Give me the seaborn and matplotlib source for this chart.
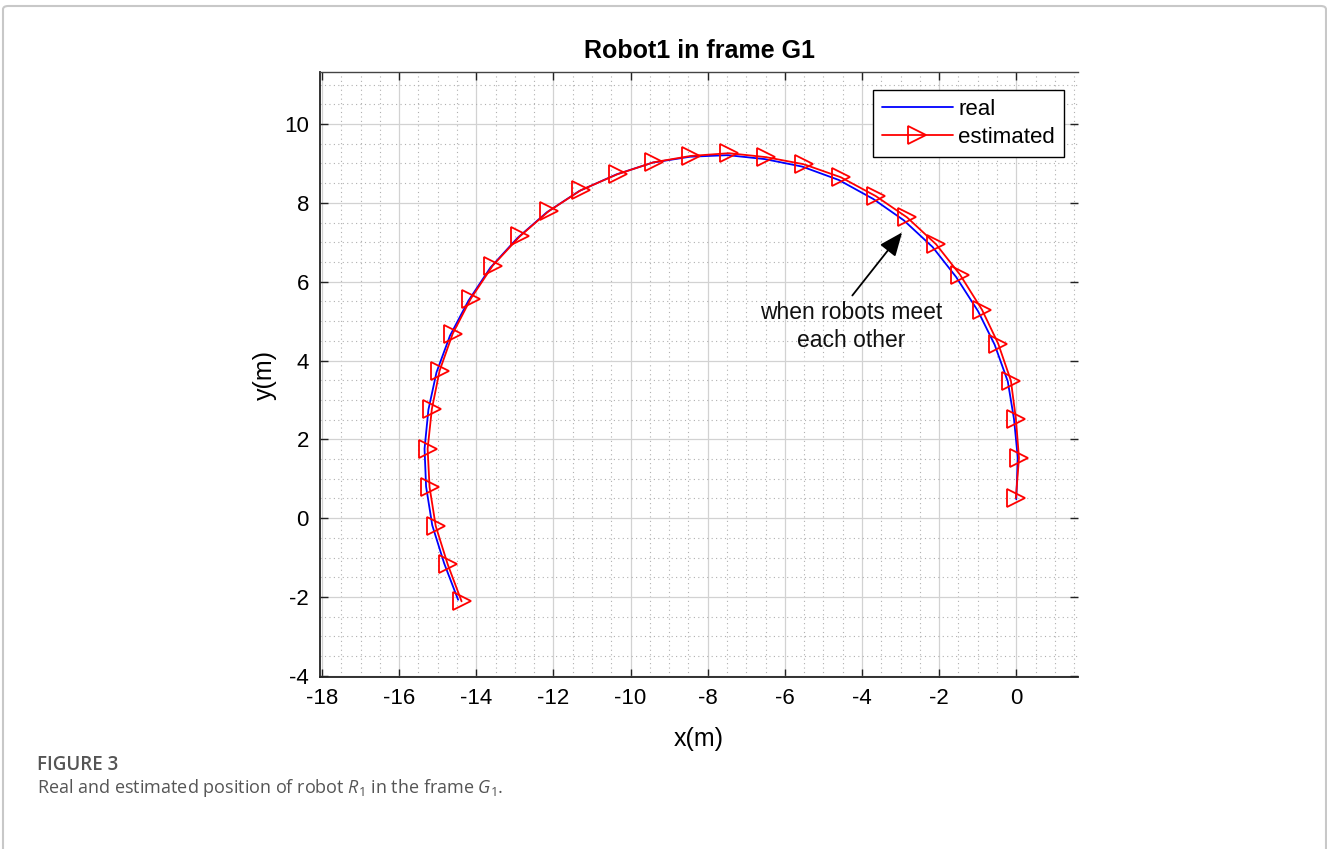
import numpy as np
import pandas as pd
import seaborn as sns
import matplotlib
matplotlib.use("Agg")
import matplotlib.pyplot as plt
from matplotlib.patches import FancyBboxPatch

# ---- data ----
est_x = [-0.01, 0.07, -0.01, -0.14, -0.47, -0.89, -1.46, -2.08, -2.83, -3.64,
         -4.55, -5.51, -6.49, -7.45, -8.44, -9.40, -10.33, -11.29, -12.12, -12.87,
         -13.57, -14.14, -14.61, -14.95, -15.15, -15.26, -15.21, -15.05, -14.74, -14.38]
est_y = [0.51, 1.53, 2.52, 3.49, 4.43, 5.29, 6.18, 6.95, 7.63, 8.17,
         8.65, 8.98, 9.16, 9.26, 9.19, 9.03, 8.73, 8.32, 7.79, 7.15,
         6.41, 5.57, 4.68, 3.74, 2.77, 1.76, 0.79, -0.20, -1.17, -2.11]

real_x = [0.00, 0.04, -0.06, -0.22, -0.56, -0.99, -1.56, -2.17, -2.92, -3.71,
          -4.60, -5.55, -6.52, -7.48, -8.46, -9.43, -10.37, -11.33, -12.17, -12.93,
          -13.63, -14.20, -14.68, -15.03, -15.24, -15.34, -15.30, -15.14, -14.83, -14.47]
real_y = [0.48, 1.53, 2.52, 3.47, 4.40, 5.25, 6.12, 6.88, 7.56, 8.10,
          8.58, 8.92, 9.11, 9.21, 9.17, 9.02, 8.72, 8.30, 7.76, 7.11,
          6.36, 5.52, 4.63, 3.70, 2.75, 1.76, 0.80, -0.18, -1.15, -2.07]

x_ticks = [-18, -16, -14, -12, -10, -8, -6, -4, -2, 0]
y_ticks = [-4, -2, 0, 2, 4, 6, 8, 10]

title = "Robot1 in frame G1"
xlabel = "x(m)"
ylabel = "y(m)"
legend_labels = ["real", "estimated"]
annot_text = "when robots meet\neach other"
fig_label = "FIGURE 3"
caption = "Real and estimated position of robot $R_1$ in the frame $G_1$."

# ---- style ----
sns.set_theme(style="white")
plt.rcParams["font.family"] = ["Liberation Sans", "DejaVu Sans"]
plt.rcParams["mathtext.fontset"] = "custom"
plt.rcParams["mathtext.it"] = "Open Sans:italic"
plt.rcParams["mathtext.rm"] = "Open Sans"
plt.rcParams["text.color"] = "black"
plt.rcParams["axes.labelcolor"] = "black"

W, H = 1327, 849
fig = plt.figure(figsize=(W / 100, H / 100), dpi=100)
fig.patch.set_facecolor("white")

# outer frame of the figure panel
frame = FancyBboxPatch((3 / W, -0.05), (1326 - 3) / W, (849 - 6) / H + 0.05,
                       boxstyle="round,pad=0,rounding_size=0.004",
                       transform=fig.transFigure, facecolor="none",
                       edgecolor="#c8c8c8", linewidth=1.5, clip_on=False)
fig.patches.append(frame)

ax = fig.add_axes([320 / W, 1 - 677 / H, (1078 - 320) / W, (677 - 72) / H])

df_real = pd.DataFrame({"x": real_x, "y": real_y})
df_est = pd.DataFrame({"x": est_x, "y": est_y})

sns.lineplot(data=df_real, x="x", y="y", sort=False, estimator=None, ax=ax,
             color="#0000ff", linewidth=1.3, label=legend_labels[0], zorder=3)
sns.lineplot(data=df_est, x="x", y="y", sort=False, estimator=None, ax=ax,
             color="#ff0000", linewidth=1.3, marker=">", markersize=12.5,
             markerfacecolor="none", markeredgecolor="#ff0000", markeredgewidth=1.3,
             label=legend_labels[1], zorder=4)

ax.set_xlim(-18.05, 1.6)
ax.set_ylim(-4.03, 11.32)
ax.set_xticks(x_ticks)
ax.set_yticks(y_ticks)
ax.set_xticks(np.arange(-18, 1.6, 0.5), minor=True)
ax.set_yticks(np.arange(-4, 11.3, 0.5), minor=True)
ax.set_xticklabels([str(v) for v in x_ticks])
ax.set_yticklabels([str(v) for v in y_ticks])

ax.grid(True, which="major", color="#d2d2d2", linewidth=0.9, linestyle="-")
ax.grid(True, which="minor", color="#b0b0b0", linewidth=0.8, linestyle=(0, (1, 3)))
ax.set_axisbelow(True)

ax.tick_params(which="major", direction="in", length=6, width=1.0,
               top=True, right=True, bottom=True, left=True,
               labelsize=16, colors="#222222", labelcolor="black", pad=8)
ax.tick_params(which="minor", length=0)

for s in ["left", "bottom"]:
    ax.spines[s].set_color("#222222")
    ax.spines[s].set_linewidth(1.3)
ax.spines["top"].set_color("#444444")
ax.spines["top"].set_linewidth(1.0)
ax.spines["right"].set_visible(False)

ax.set_title(title, fontsize=18, fontweight="bold", pad=10, color="black")
ax.set_xlabel(xlabel, fontsize=18, labelpad=13)
ax.set_ylabel(ylabel, fontsize=18, labelpad=5)

leg = ax.legend(loc="upper right", bbox_to_anchor=(0.9815, 0.970), borderaxespad=0,
                fontsize=16, frameon=True, fancybox=False, edgecolor="black",
                framealpha=1, handlelength=3.2, handletextpad=0.25,
                borderpad=0.4, labelspacing=0.3)
leg.get_frame().set_linewidth(1.0)

# arrow and text of the annotation
ax.annotate("", xy=(-2.96, 7.25), xytext=(-4.25, 5.65),
            arrowprops=dict(arrowstyle="-|>,head_length=1.2,head_width=0.5",
                            color="black", linewidth=1.3, shrinkA=0, shrinkB=0))
ax.text(-4.28, 5.52, annot_text, ha="center", va="top", fontsize=16.5,
        color="#111111", linespacing=1.3)

fig.text(37 / W, 1 - 765 / H, fig_label, fontsize=13.5, fontweight="semibold",
         color="#555555", family=["Open Sans", "DejaVu Sans"], va="center")
fig.text(37 / W, 1 - 788 / H, caption, fontsize=13,
         color="#555555", family=["Open Sans", "DejaVu Sans"], va="center")

fig.savefig("out.png", dpi=100, facecolor="white")
